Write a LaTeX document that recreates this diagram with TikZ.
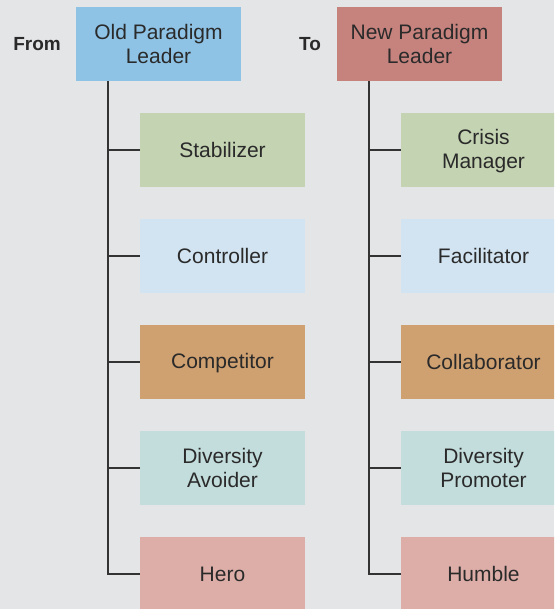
\documentclass[tikz,border=0pt]{standalone}
\usepackage{fontspec}
\setmainfont{Liberation Sans}
% line strut that keeps every line 24pt tall
\newcommand\ls{\rule[-3.2pt]{0pt}{20.8pt}}
\begin{document}
\begin{tikzpicture}[x=1pt,y=-1pt,
  box/.style={minimum width=165pt,minimum height=74pt,inner sep=0pt,
    align=center,font=\fontsize{21}{24}\selectfont,text=textc},
  tag/.style={font=\fontsize{19}{23}\selectfont\bfseries,text=textc},
  link/.style={draw=linec,line width=1.3pt}]
\definecolor{bg}{HTML}{E4E5E7}
\definecolor{textc}{HTML}{2A2A2A}
\definecolor{linec}{HTML}{333333}
\definecolor{oldc}{HTML}{8EC3E6}
\definecolor{newc}{HTML}{C6837E}
\definecolor{greenc}{HTML}{C4D3B2}
\definecolor{skyc}{HTML}{D2E4F2}
\definecolor{orangec}{HTML}{CFA070}
\definecolor{tealc}{HTML}{C3DCDC}
\definecolor{pinkc}{HTML}{DDAEA8}
\useasboundingbox (0,0) rectangle (554,609);
\clip (0,0) rectangle (554,609);
\fill[bg] (0,0) rectangle (554,609);

% column headings
\node[tag] (from) at (37,44) {From};
\node[tag] (to) at (310,44) {To};

% root boxes
\node[box,fill=oldc] (old) at (158.5,44) {\ls Old Paradigm\\\ls Leader};
\node[box,fill=newc] (new) at (419.5,44) {\ls New Paradigm\\\ls Leader};

% left column
\node[box,fill=greenc]  (o1) at (222.5,150) {\ls Stabilizer};
\node[box,fill=skyc]    (o2) at (222.5,256) {\ls Controller};
\node[box,fill=orangec] (o3) at (222.5,362) {\ls Competitor};
\node[box,fill=tealc]   (o4) at (222.5,468) {\ls Diversity\\\ls Avoider};
\node[box,fill=pinkc]   (o5) at (222.5,574) {\ls Hero};

% right column
\node[box,fill=greenc]  (n1) at (483.5,150) {\ls Crisis\\\ls Manager};
\node[box,fill=skyc]    (n2) at (483.5,256) {\ls Facilitator};
\node[box,fill=orangec] (n3) at (483.5,362) {\ls Collaborator};
\node[box,fill=tealc]   (n4) at (483.5,468) {\ls Diversity\\\ls Promoter};
\node[box,fill=pinkc]   (n5) at (483.5,574) {\ls Humble};

% tree connectors
\draw[link] (old.south -| 108,0) |- (o5.west);
\foreach \k in {1,...,4} \draw[link] (o\k.west) -- (o\k.west -| 108,0);
\draw[link] (new.south -| 369,0) |- (n5.west);
\foreach \k in {1,...,4} \draw[link] (n\k.west) -- (n\k.west -| 369,0);
\end{tikzpicture}
\end{document}
